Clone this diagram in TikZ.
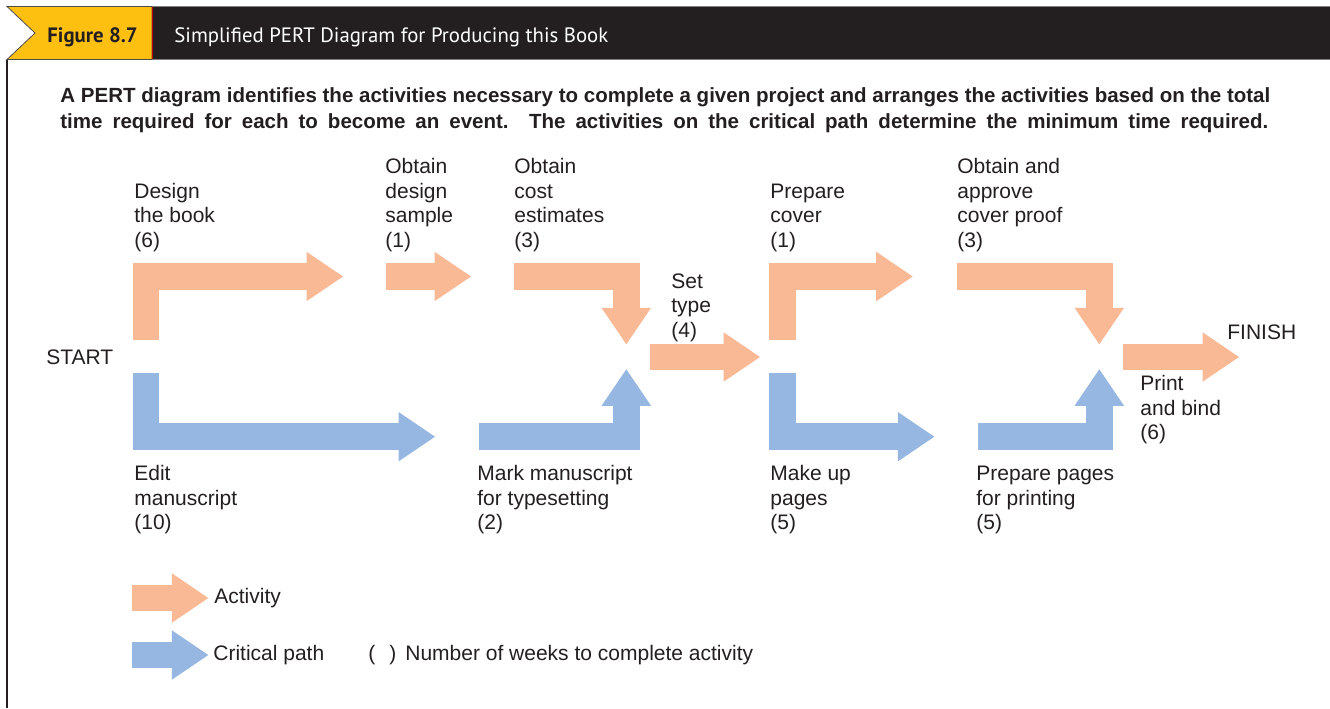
\documentclass[tikz,border=0pt]{standalone}
\usepackage{fontspec}
\setmainfont{Liberation Sans}
\newfontfamily\headfont{PT Sans}
\usetikzlibrary{arrows.meta}
\definecolor{actcol}{RGB}{249,185,148}
\definecolor{critcol}{RGB}{150,183,225}
\definecolor{figyellow}{RGB}{253,192,16}
\definecolor{barblack}{RGB}{35,31,32}
\definecolor{inkcol}{RGB}{35,31,32}

\begin{document}
\begin{tikzpicture}[x=0.5pt, y=-0.5pt, text=inkcol]
    \tikzstyle{act}=[draw=actcol, line width=13.25pt, -{Triangle[length=18.25pt, width=24.75pt, line width=0pt 0]}]
    \tikzstyle{crit}=[act, draw=critcol]
    \tikzstyle{lab}=[anchor=base west, inner sep=0pt, align=left, font=\fontsize{10.5pt}{12.25pt}\selectfont]
    \useasboundingbox (0,0) rectangle (1330,708);

    % header bar
    \draw[gray, fill=barblack] (152,6.5) rectangle (1331,59.5);
    \draw[gray!60!black, fill=figyellow] (7,6.5) -- (152,6.5) -- (152,59.5) -- (7,59.5) -- (35,33) -- cycle;
    \draw[red!75!black] (152,7) -- (152,59);
    \draw[inkcol, line width=1pt] (6.5,59.5) -- (6.5,708);
    \node[lab, font=\headfont\bfseries\fontsize{10.4pt}{12pt}\selectfont] (fig) at (47,42) {Figure 8.7};
    \node[lab, text=white, font=\headfont\fontsize{10.4pt}{12pt}\selectfont] (title) at (174,42) {Simplified PERT Diagram for Producing this Book};
    \node[lab, font=\bfseries\fontsize{10.26pt}{13pt}\selectfont] (caption) at (60,128)
        {\makebox[605pt][s]{A PERT diagram identifies the activities necessary to complete a given project and arranges the activities based on the total}\\
         \makebox[604pt][s]{time required for each to become an event. The activities on the critical path determine the minimum time required.}};

    % events
    \coordinate (dA) at (146,340);
    \coordinate (dB) at (343,276.5);
    \coordinate (oA) at (386,276.5);
    \coordinate (oB) at (471,276.5);
    \coordinate (cA) at (514,276.5);
    \coordinate (cB) at (626.3,344.3);
    \coordinate (eA) at (146,372.7);
    \coordinate (eB) at (435,436.7);
    \coordinate (mA) at (479,436.7);
    \coordinate (mB) at (626.3,369.3);
    \coordinate (tA) at (650,357);
    \coordinate (tB) at (760,357);
    \coordinate (pA) at (782.3,340);
    \coordinate (pB) at (912.7,276.5);
    \coordinate (aA) at (956.7,276.5);
    \coordinate (aB) at (1099.3,344.3);
    \coordinate (uA) at (782.3,372.7);
    \coordinate (uB) at (934.3,436.7);
    \coordinate (rA) at (978.3,436.7);
    \coordinate (rB) at (1099.3,369.3);
    \coordinate (bA) at (1122.7,357);
    \coordinate (bB) at (1239,357);
    \coordinate (k1A) at (131.7,598);
    \coordinate (k1B) at (208.3,598);
    \coordinate (k2A) at (131.7,655);
    \coordinate (k2B) at (208.3,655);

    % activities
    \draw[act] (dA) |- (dB);
    \draw[act] (oA) -- (oB);
    \draw[act] (cA) -| (cB);
    \draw[crit] (eA) |- (eB);
    \draw[crit] (mA) -| (mB);
    \draw[act] (tA) -- (tB);
    \draw[act] (pA) |- (pB);
    \draw[act] (aA) -| (aB);
    \draw[crit] (uA) |- (uB);
    \draw[crit] (rA) -| (rB);
    \draw[act] (bA) -- (bB);
    \draw[act] (k1A) -- (k1B);
    \draw[crit] (k2A) -- (k2B);

    % labels
    \node[lab] (design) at (134,247) {Design\\the book\\(6)};
    \node[lab] (sample) at (385,247) {Obtain\\design\\sample\\(1)};
    \node[lab] (cost) at (514,247) {Obtain\\cost\\estimates\\(3)};
    \node[lab] (settype) at (671,337) {Set\\type\\(4)};
    \node[lab] (cover) at (770,247) {Prepare\\cover\\(1)};
    \node[lab] (proof) at (957,247) {Obtain and\\approve\\cover proof\\(3)};
    \node[lab] (start) at (46,364.5) {START};
    \node[lab] (finish) at (1227,339.5) {FINISH};
    \node[lab] (bind) at (1140,439.5) {Print\\and bind\\(6)};
    \node[lab] (edit) at (134,529.5) {Edit\\manuscript\\(10)};
    \node[lab] (mark) at (477,529.5) {Mark manuscript\\for typesetting\\(2)};
    \node[lab] (makeup) at (770,529.5) {Make up\\pages\\(5)};
    \node[lab] (pages) at (976,529.5) {Prepare pages\\for printing\\(5)};

    % key
    \node[lab] (activity) at (214,603.5) {Activity};
    \node[lab] (critical) at (213,660) {Critical path};
    \node[lab] (weeks) at (368,660) {(\hspace{7pt})\hspace{4.5pt}Number of weeks to complete activity};
\end{tikzpicture}
\end{document}
